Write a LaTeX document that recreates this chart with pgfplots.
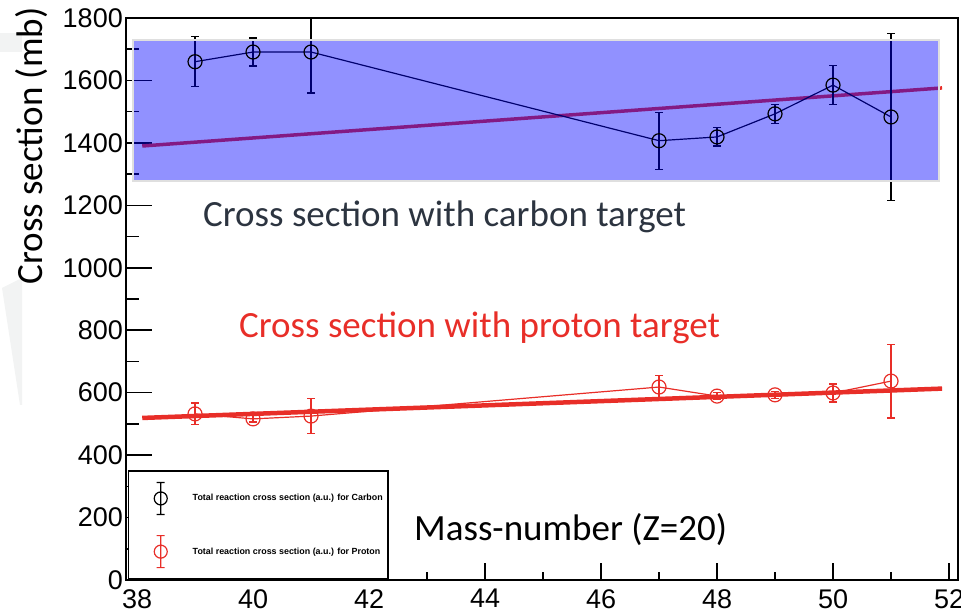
\documentclass[border=0pt]{standalone}
\usepackage{pgfplots}
\pgfplotsset{compat=1.18}
\usepackage{fontspec}
\setmainfont{Liberation Sans}
\newfontfamily\calibri{Carlito}
\definecolor{protonred}{RGB}{232,46,40}
\definecolor{slatetext}{RGB}{44,52,64}
\definecolor{slidegray}{RGB}{242,243,243}

\begin{document}
\begin{tikzpicture}
\useasboundingbox (0pt,0pt) rectangle (961pt,612pt);
% faint slide background shapes
\fill[slidegray] (0pt,560pt) rectangle (22pt,579pt);
\fill[slidegray] (2pt,324pt) -- (22pt,334pt) -- (22pt,207pt) -- (20pt,207pt) -- cycle;

\begin{axis}[
  at={(126pt,32pt)}, anchor=south west,
  width=832pt, height=562pt, scale only axis,
  xmin=37.81, xmax=52.155, ymin=0, ymax=1800,
  xtick={38,40,...,52}, ytick={0,200,...,1800},
  minor x tick num=1, minor y tick num=1,
  tick align=inside, xtick pos=bottom, ytick pos=left,
  axis line style={line width=1.5pt},
  tick style={line width=1.5pt, black},
  xtick style={/pgfplots/major tick length=17pt, /pgfplots/minor tick length=8pt},
  ytick style={/pgfplots/major tick length=26pt, /pgfplots/minor tick length=13pt},
  scaled ticks=false,
  /pgf/number format/1000 sep={},
  /pgf/number format/assume math mode=true,
  ticklabel style={font=\fontsize{27}{27}\selectfont},
  yticklabel style={inner sep=0pt, xshift=-3pt},
  xticklabel style={inner sep=0pt, yshift=-9pt},
  legend style={at={(rel axis cs:0.0024,0)}, anchor=south west, draw=black,
    line width=1.5pt, inner xsep=5pt, inner ysep=11pt, row sep=20pt,
    font=\fontsize{8.9}{10}\selectfont\bfseries, nodes={inner sep=0pt}},
  legend cell align=left,
]

% linear fits
\addplot[protonred, line width=4.5pt, forget plot] coordinates {(38.09,519) (51.88,613)};
\addplot[protonred, line width=3.5pt, forget plot] coordinates {(38.09,1390) (51.88,1576)};

% carbon target
\addplot[black, line width=1.2pt, mark=o, mark size=7pt, mark options={line width=1.2pt},
  forget plot,
  error bars/.cd, y dir=both, y explicit, error mark=-,
  error bar style={line width=1.2pt},
  error mark options={rotate=90, line width=1.2pt, mark size=4pt, black}]
  table[x=x, y=y, y error=e] {
x  y    e
39 1660 80
40 1691 45
41 1691 131
47 1407 91
48 1419 29
49 1493 30
50 1585 63
51 1483 268
};

% proton target
\addplot[protonred, line width=1.2pt, mark=o, mark size=7pt, mark options={line width=1.2pt},
  forget plot,
  error bars/.cd, y dir=both, y explicit, error mark=-,
  error bar style={line width=1.2pt},
  error mark options={rotate=90, line width=1.2pt, mark size=4pt, protonred}]
  table[x=x, y=y, y error=e] {
x  y   e
39 532 35
40 516 10
41 525 56
47 618 37
48 589 12
49 593 12
50 599 29
51 637 118
};

% highlighted carbon band
\fill[blue, fill opacity=0.43] (axis cs:37.93,1278) rectangle (axis cs:51.83,1730);
\draw[gray!25, line width=1.5pt] (axis cs:37.93,1278) rectangle (axis cs:51.83,1730);

\addlegendimage{black, legend image code/.code={
  \path[draw=none, fill=none] (-27pt,-16pt) rectangle (32pt,16pt);
  \draw[line width=1.2pt, fill=none] (0pt,-16pt) -- (0pt,16pt)
    (-4pt,-16pt) -- (4pt,-16pt) (-4pt,16pt) -- (4pt,16pt)
    (0pt,0pt) circle (6.5pt);}}
\addlegendentry{Total reaction cross section (a.u.) for Carbon}
\addlegendimage{protonred, legend image code/.code={
  \path[draw=none, fill=none] (-27pt,-16pt) rectangle (32pt,16pt);
  \draw[line width=1.2pt, fill=none] (0pt,-16pt) -- (0pt,16pt)
    (-4pt,-16pt) -- (4pt,-16pt) (-4pt,16pt) -- (4pt,16pt)
    (0pt,0pt) circle (6.5pt);}}
\addlegendentry{Total reaction cross section (a.u.) for Proton}
\end{axis}

% annotations
\node[anchor=base west, inner sep=0pt, text=slatetext, font=\calibri\fontsize{37}{37}\selectfont]
  at (203pt,385pt) {Cross section with carbon target};
\node[anchor=base west, inner sep=0pt, text=protonred, font=\calibri\fontsize{37}{37}\selectfont]
  at (239pt,274pt) {Cross section with proton target};
\node[anchor=base west, inner sep=0pt, text=black, font=\calibri\fontsize{37}{37}\selectfont]
  at (414pt,71pt) {Mass-number (Z=20)};
\node[anchor=base, rotate=90, inner sep=0pt, text=black, font=\calibri\fontsize{37}{37}\selectfont]
  at (42pt,466pt) {Cross section (mb)};
\end{tikzpicture}
\end{document}
